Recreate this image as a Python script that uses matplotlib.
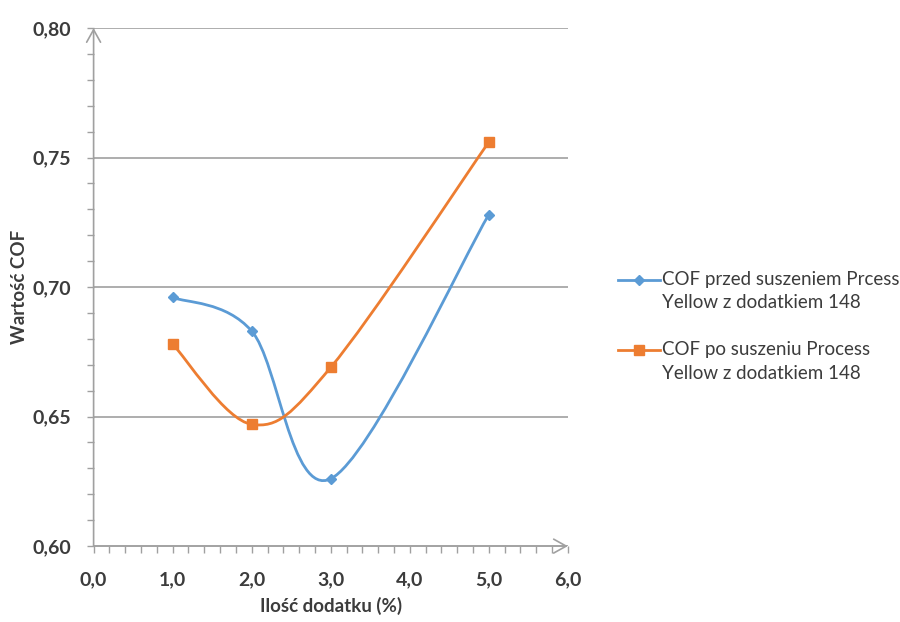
import numpy as np
import matplotlib.pyplot as plt
from matplotlib.path import Path
from matplotlib.patches import PathPatch
from matplotlib.lines import Line2D
from matplotlib.ticker import MultipleLocator, FuncFormatter

# data
x_vals = [1.0, 2.0, 3.0, 5.0]
cof_before = [0.696, 0.683, 0.626, 0.728]
cof_after = [0.678, 0.647, 0.669, 0.756]
series_labels = ["COF przed suszeniem Prcess\nYellow z dodatkiem 148",
                 "COF po suszeniu Process\nYellow z dodatkiem 148"]
blue = "#5B9BD5"
orange = "#ED7D31"
grey = "#A0A0A0"
txt = "#3C3C3C"

plt.rcParams['font.family'] = ['Lato', 'DejaVu Sans']


def smooth_path(xs, ys):
    # Excel-style smoothed line: cubic Bezier segments through the points
    pts = np.column_stack([xs, ys])
    n = len(pts)
    verts = [pts[0]]
    codes = [Path.MOVETO]
    for i in range(n - 1):
        p0 = pts[max(i - 1, 0)]
        p1 = pts[i]
        p2 = pts[i + 1]
        p3 = pts[min(i + 2, n - 1)]
        verts += [p1 + (p2 - p0) / 6, p2 - (p3 - p1) / 6, p2]
        codes += [Path.CURVE4] * 3
    return Path(verts, codes)


fig = plt.figure(figsize=(9, 6.22), dpi=100)
ax = fig.add_axes([0.104, 0.122, 0.527, 0.833])

ax.set_xlim(0, 6)
ax.set_ylim(0.60, 0.80)

for ys, col, mk, ms in [(cof_before, blue, 'D', 5.5), (cof_after, orange, 's', 6.5)]:
    ax.add_patch(PathPatch(smooth_path(x_vals, ys), facecolor='none', edgecolor=col,
                           lw=2.0, zorder=3, capstyle='round'))
    ax.plot(x_vals, ys, ls='none', marker=mk, ms=ms, color=col, zorder=4)

ax.xaxis.set_major_locator(MultipleLocator(1))
ax.xaxis.set_minor_locator(MultipleLocator(0.2))
ax.yaxis.set_major_locator(MultipleLocator(0.05))
ax.yaxis.set_minor_locator(MultipleLocator(0.01))
ax.xaxis.set_major_formatter(FuncFormatter(lambda v, p: f"{v:.1f}".replace('.', ',')))
ax.yaxis.set_major_formatter(FuncFormatter(lambda v, p: f"{v:.2f}".replace('.', ',')))

ax.yaxis.grid(True, which='major', color=grey, lw=1.2)
ax.set_axisbelow(True)
for s in ax.spines.values():
    s.set_visible(False)

ax.tick_params(axis='both', which='both', direction='out', length=5, width=1, color=grey)
ax.tick_params(axis='x', which='major', pad=13)
ax.tick_params(axis='y', which='major', pad=11)
for lab in ax.get_xticklabels() + ax.get_yticklabels():
    lab.set_fontweight('bold')
    lab.set_fontsize(14)
    lab.set_color(txt)

# axis lines with open arrow heads
arrow = dict(arrowstyle='->,head_length=0.9,head_width=0.5', color=grey, lw=1.2,
             shrinkA=0, shrinkB=0)
ax.annotate('', xy=(1, 0), xytext=(0, 0), xycoords='axes fraction', arrowprops=arrow,
            annotation_clip=False)
ax.annotate('', xy=(0, 1), xytext=(0, 0), xycoords='axes fraction', arrowprops=arrow,
            annotation_clip=False)

ax.set_xlabel("Ilość dodatku (%)", fontsize=13.5, fontweight='bold', color=txt, labelpad=6)
ax.set_ylabel("Wartość COF", fontsize=13.5, fontweight='bold', color=txt, labelpad=3)

# legend drawn at the right, handle aligned with first text line
leg_y = [0.550, 0.437]
for yy, col, mk, ms, lab in zip(leg_y, [blue, orange], ['D', 's'], [5.5, 6.5], series_labels):
    fig.add_artist(Line2D([0.687, 0.710, 0.733], [yy, yy, yy], transform=fig.transFigure,
                          color=col, lw=2.0, marker=mk, ms=ms, markevery=[1]))
    fig.text(0.736, yy + 0.014, lab, fontsize=13.5, color=txt, va='top', ha='left',
             linespacing=1.45)

fig.savefig("out.png", dpi=100)
